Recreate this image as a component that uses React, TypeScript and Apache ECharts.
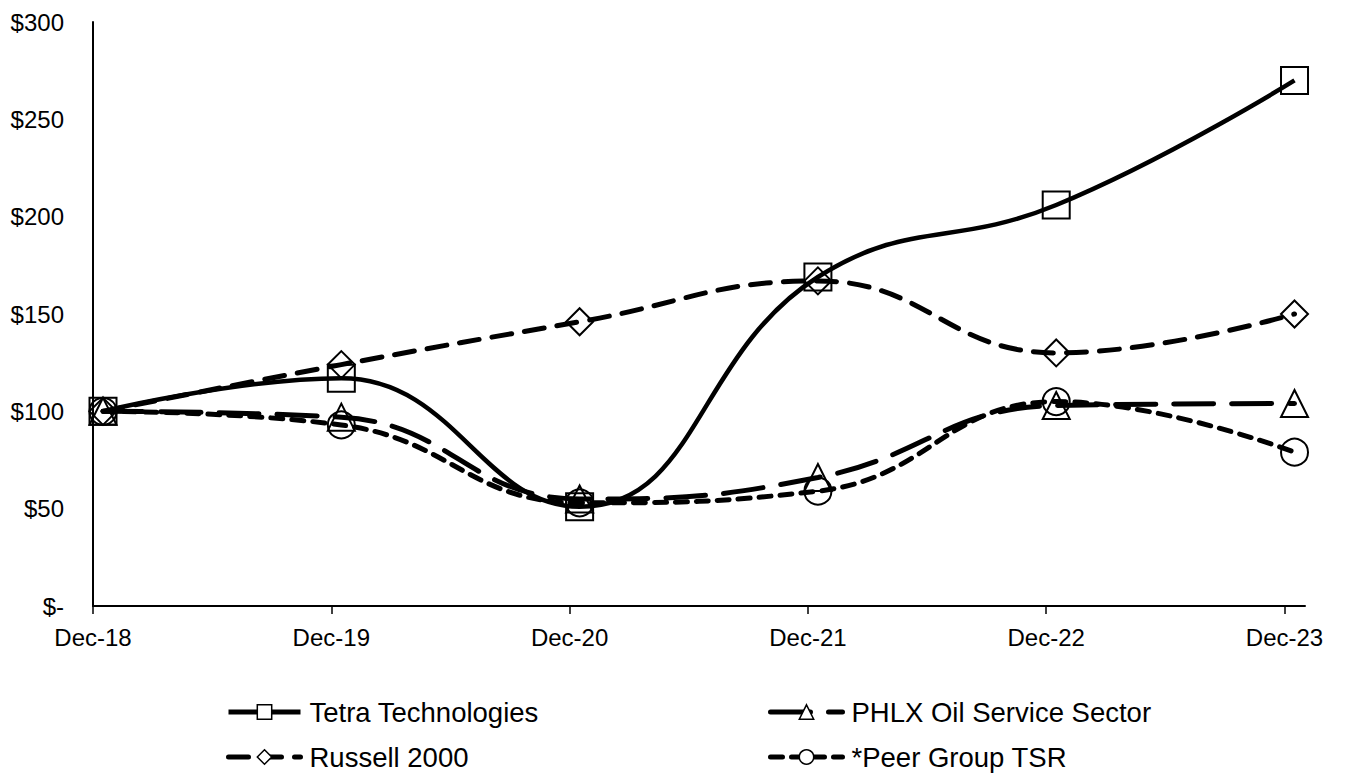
import React, { useEffect, useRef } from "react";
import * as echarts from "echarts";

const periods = ["Dec-18", "Dec-19", "Dec-20", "Dec-21", "Dec-22", "Dec-23"];
const tetra = [100, 117, 51, 169, 206, 270];
const phlx = [100, 97, 55, 66, 103, 104];
const russell = [100, 124, 146, 167, 130, 150];
const peer = [100, 93, 53, 59, 105, 79];
const yTicks = [0, 50, 100, 150, 200, 250, 300];

const FONT = "'Liberation Sans', Arial, sans-serif";
const POINT_OFFSET = 0.042;

function toPoints(vals: number[]) {
  return vals.map((v, i) => [i + POINT_OFFSET, v]);
}

function legendFor(name: string, left: number, top: number) {
  return {
    data: [name],
    orient: "horizontal",
    left,
    top,
    padding: 0,
    itemWidth: 72,
    itemHeight: 18,
    lineStyle: { width: 5 },
    itemStyle: { color: "#fff", borderColor: "#000", borderWidth: 1.5 },
    textStyle: {
      fontFamily: FONT,
      fontSize: 27.5,
      lineHeight: 28,
      color: "#000",
      padding: [0, 0, 0, 4],
    },
    selectedMode: false,
  };
}

export default function App() {
  const ref = useRef<HTMLDivElement>(null);
  useEffect(() => {
    document.body.style.margin = "0";
    const chart = echarts.init(ref.current!, null, { renderer: "svg" });
    const marker = { color: "none", borderColor: "#000", borderWidth: 2 };
    const base = {
      type: "line",
      smooth: 0.45,
      symbolSize: 27,
      itemStyle: marker,
      emphasis: { disabled: true },
    };
    chart.setOption({
      animation: false,
      backgroundColor: "#fff",
      grid: { left: 93, right: 43, top: 22, bottom: 167 },
      xAxis: {
        type: "value",
        min: 0,
        max: 5.086,
        axisLine: { show: true, lineStyle: { color: "#000", width: 2 } },
        axisTick: {
          show: true,
          length: 8,
          lineStyle: { color: "#000", width: 1.5 },
          customValues: periods.map((_, i) => i),
        },
        axisLabel: {
          customValues: periods.map((_, i) => i),
          formatter: (v: number) => periods[Math.round(v)] ?? "",
          color: "#000",
          fontFamily: FONT,
          fontSize: 24,
          margin: 19,
        },
        splitLine: { show: false },
      },
      yAxis: {
        type: "value",
        min: 0,
        max: 300,
        interval: 50,
        axisLine: { show: true, lineStyle: { color: "#000", width: 2 } },
        axisTick: { show: false },
        splitLine: { show: false },
        axisLabel: {
          formatter: (v: number) => (v === 0 ? "$-" : "$" + v),
          color: "#000",
          fontFamily: FONT,
          fontSize: 24,
          margin: 29,
          customValues: yTicks,
        },
      },
      legend: [
        legendFor("Tetra Technologies", 226, 698),
        legendFor("Russell 2000", 226, 743),
        legendFor("PHLX Oil Service Sector", 768, 698),
        legendFor("*Peer Group TSR", 768, 743),
      ],
      series: [
        {
          ...base,
          name: "Tetra Technologies",
          symbol: "rect",
          data: toPoints(tetra),
          lineStyle: { color: "#000", width: 4.5, type: "solid" },
          z: 5,
        },
        {
          ...base,
          name: "PHLX Oil Service Sector",
          symbol: "triangle",
          data: toPoints(phlx),
          lineStyle: { color: "#000", width: 5, type: [40, 18], cap: "round" },
          z: 3,
        },
        {
          ...base,
          name: "Russell 2000",
          symbol: "diamond",
          data: toPoints(russell),
          lineStyle: { color: "#000", width: 5, type: [20, 13], cap: "round" },
          z: 4,
        },
        {
          ...base,
          name: "*Peer Group TSR",
          symbol: "circle",
          data: toPoints(peer),
          lineStyle: { color: "#000", width: 5, type: [12, 9], cap: "round" },
          z: 2,
        },
      ],
    });
    return () => chart.dispose();
  }, []);
  return <div ref={ref} style={{ width: 1348, height: 773 }} />;
}
